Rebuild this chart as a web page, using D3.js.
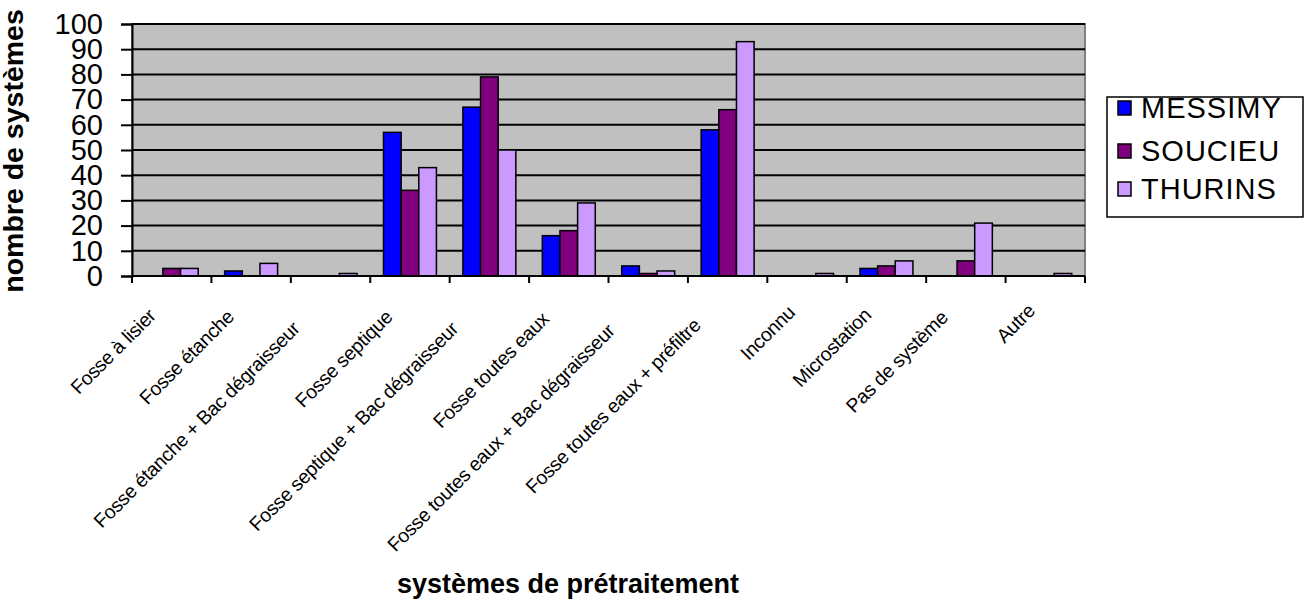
<!DOCTYPE html>
<html><head><meta charset="utf-8">
<script src="https://cdn.jsdelivr.net/npm/d3@7"></script>
<style>
html,body{margin:0;padding:0;background:#fff;}
text{font-family:"Liberation Sans",Arial,sans-serif;}
</style></head>
<body>
<svg id="chart" width="1305" height="604"></svg>
<script>
const categories = ["Fosse à lisier","Fosse étanche","Fosse étanche + Bac dégraisseur","Fosse septique","Fosse septique + Bac dégraisseur","Fosse toutes eaux","Fosse toutes eaux + Bac dégraisseur","Fosse toutes eaux + préfiltre","Inconnu","Microstation","Pas de système","Autre"];
const seriesNames = ["MESSIMY","SOUCIEU","THURINS"];
const messimy = [0,2,0,57,67,16,4,58,0,3,0,0];
const soucieu = [3,0,0,34,79,18,1,66,0,4,6,0];
const thurins = [3,5,1,43,50,29,2,93,1,6,21,1];
const yTicks = [0,10,20,30,40,50,60,70,80,90,100];
const colors = ["#0000FF","#800080","#CC99FF"];
const seriesValues = [messimy, soucieu, thurins];

const svg = d3.select("#chart");
const L = 132, R = 1085, T = 24, B = 276;
const x0 = d3.scaleBand().domain(categories).range([L, R]).padding(0);
const bw = x0.bandwidth();
const gap = bw / 4.5 * 0.75;
const x1 = d3.scaleBand().domain(seriesNames).range([gap, bw - gap]).padding(0);
const y = d3.scaleLinear().domain([0, 100]).range([B, T]);

// plot area
svg.append("rect").attr("x", L).attr("y", T).attr("width", R - L).attr("height", B - T)
  .attr("fill", "#C0C0C0").attr("stroke", "#808080").attr("stroke-width", 2);

// gridlines
svg.append("g").selectAll("line").data(yTicks.filter(d => d > 0)).join("line")
  .attr("x1", L).attr("x2", R).attr("y1", d => y(d)).attr("y2", d => y(d))
  .attr("stroke", "#000").attr("stroke-width", 2);

// bars
const rows = [];
categories.forEach((c, i) => seriesNames.forEach((s, j) => rows.push({c, s, v: seriesValues[j][i], col: colors[j]})));
svg.append("g").selectAll("rect").data(rows.filter(d => d.v > 0)).join("rect")
  .attr("x", d => x0(d.c) + x1(d.s)).attr("width", x1.bandwidth())
  .attr("y", d => y(d.v)).attr("height", d => B - y(d.v))
  .attr("fill", d => d.col).attr("stroke", "#000").attr("stroke-width", 1.5);

// y axis
const yAxis = d3.axisLeft(y).tickValues(yTicks).tickSize(11).tickPadding(18);
const gy = svg.append("g").attr("transform", `translate(${L},0)`).call(yAxis);
gy.select(".domain").attr("stroke", "#000").attr("stroke-width", 2);
gy.selectAll(".tick line").attr("stroke", "#000").attr("stroke-width", 2);
gy.selectAll(".tick text").attr("font-size", 29).attr("fill", "#000")
  .attr("font-family", "Liberation Sans, Arial, sans-serif");

// x axis line and ticks at category boundaries
svg.append("line").attr("x1", L).attr("x2", R).attr("y1", B).attr("y2", B)
  .attr("stroke", "#000").attr("stroke-width", 2);
const bounds = categories.map(c => x0(c)).concat([R]);
svg.append("g").selectAll("line").data(bounds).join("line")
  .attr("x1", d => d).attr("x2", d => d).attr("y1", B).attr("y2", B + 7)
  .attr("stroke", "#000").attr("stroke-width", 2);

// x labels
const xl = svg.append("g").selectAll("text").data(categories).join("text")
  .attr("text-anchor", "end").attr("font-size", 19.5).attr("fill", "#000")
  .attr("letter-spacing", -0.3)
  .text(d => d);
xl.each(function(d) {
  const len = this.getComputedTextLength();
  const ex = len - 137;
  const px = x0(d) + bw / 2 - 17 - 0.087 * ex;
  const py = B + 43 + 0.075 * ex;
  d3.select(this).attr("transform", `translate(${px},${py}) rotate(-45)`);
});

// axis titles
svg.append("text").attr("x", 568).attr("y", 593).attr("text-anchor", "middle")
  .attr("font-size", 27).attr("font-weight", "bold").text("systèmes de prétraitement");
svg.append("text").attr("transform", `translate(23,${(T + B) / 2 + 1}) rotate(-90)`)
  .attr("text-anchor", "middle").attr("font-size", 28.5).attr("font-weight", "bold")
  .text("nombre de systèmes");

// legend
const lg = svg.append("g");
lg.append("rect").attr("x", 1107).attr("y", 97).attr("width", 196).attr("height", 120)
  .attr("fill", "#fff").attr("stroke", "#000").attr("stroke-width", 1.5);
const ly = [108, 151, 189];
seriesNames.forEach((s, i) => {
  lg.append("rect").attr("x", 1118).attr("y", ly[i] - 7).attr("width", 13).attr("height", 14)
    .attr("fill", colors[i]).attr("stroke", "#000").attr("stroke-width", 1.5);
  lg.append("text").attr("x", 1141).attr("y", ly[i]).attr("dy", "0.36em")
    .attr("font-size", 29).attr("letter-spacing", 1).attr("fill", "#000").text(s);
});
</script>
</body></html>
